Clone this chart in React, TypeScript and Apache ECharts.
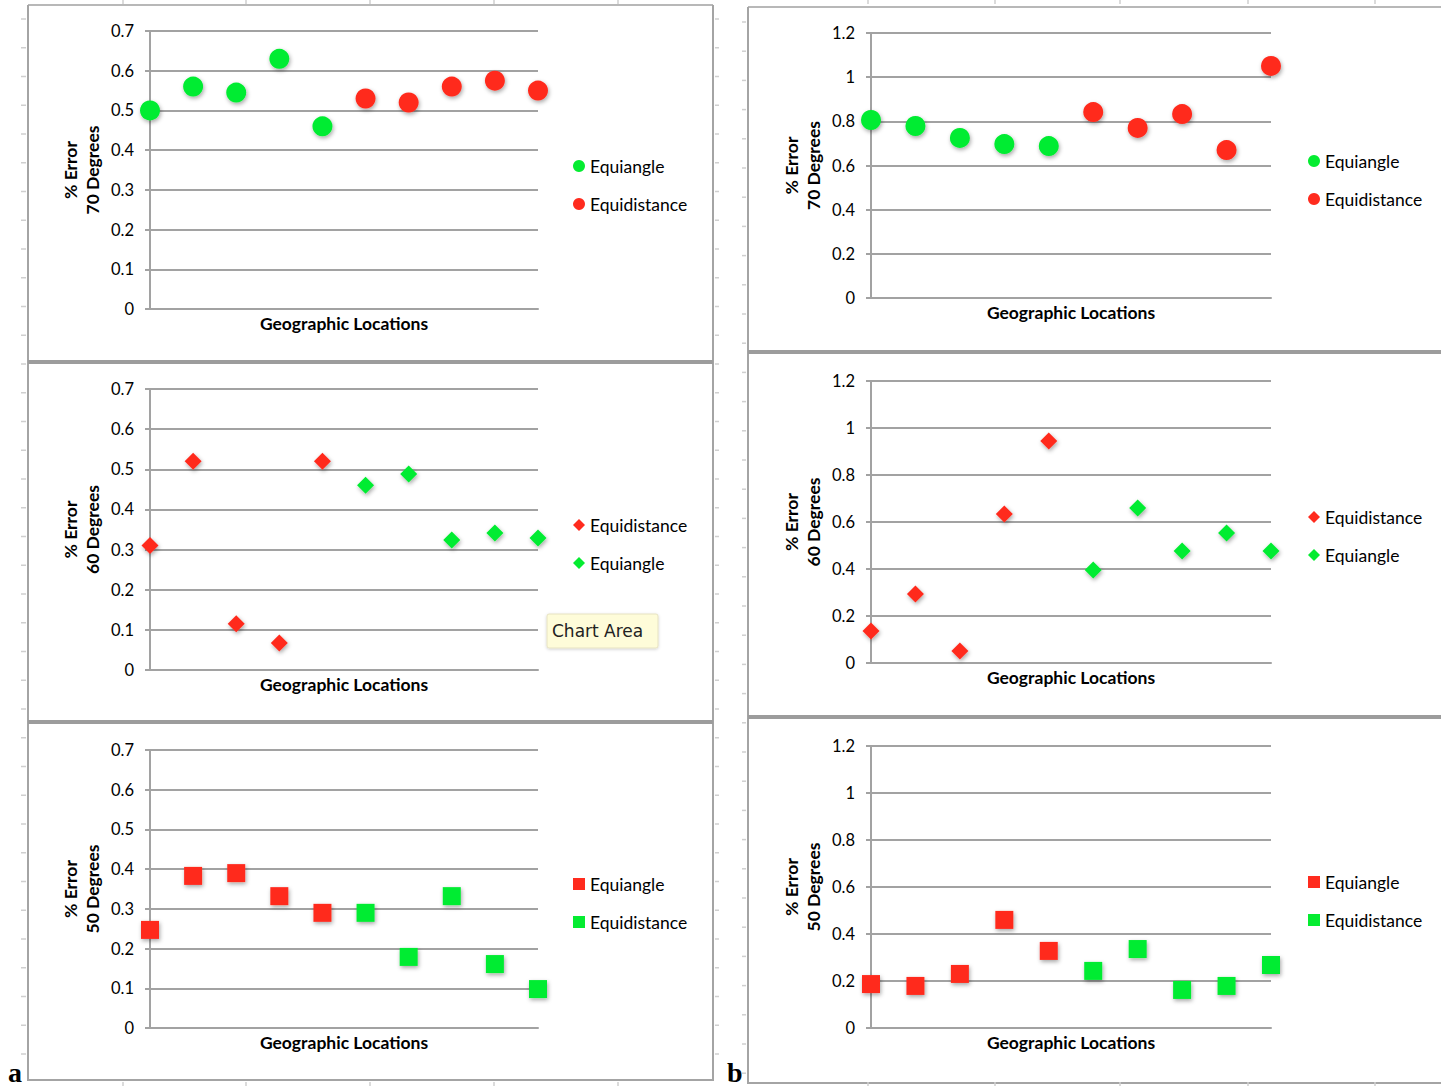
import React, { useEffect, useRef } from "react";
import * as echarts from "echarts";

// ---------- DATA ----------
const locations = ["1", "2", "3", "4", "5", "6", "7", "8", "9", "10"];

// Panel a (y axis 0 - 0.7)
const a70Equiangle = [0.5, 0.56, 0.545, 0.63, 0.46]; // locations 1-5
const a70Equidistance = [0.53, 0.52, 0.56, 0.575, 0.55]; // locations 6-10
const a60Equidistance = [0.31, 0.52, 0.115, 0.067, 0.52]; // locations 1-5
const a60Equiangle = [0.46, 0.488, 0.324, 0.341, 0.329]; // locations 6-10
const a50Equiangle = [0.247, 0.383, 0.39, 0.332, 0.29]; // locations 1-5
const a50Equidistance = [0.29, 0.179, 0.332, 0.161, 0.098]; // locations 6-10

// Panel b (y axis 0 - 1.2)
const b70Equiangle = [0.806, 0.779, 0.725, 0.697, 0.688];
const b70Equidistance = [0.842, 0.77, 0.833, 0.67, 1.051];
const b60Equidistance = [0.136, 0.294, 0.051, 0.634, 0.945];
const b60Equiangle = [0.396, 0.66, 0.477, 0.553, 0.477];
const b50Equiangle = [0.187, 0.179, 0.23, 0.46, 0.328];
const b50Equidistance = [0.243, 0.336, 0.162, 0.179, 0.268];

const aTicks = { max: 0.7, interval: 0.1 };
const bTicks = { max: 1.2, interval: 0.2 };

// ---------- STYLE ----------
const GREEN = "#05ec31";
const RED = "#ff2b1e";
const GRID_GRAY = "#a2a2a2";
const FONT = "Lato";

type SeriesDef = { name: string; color: string; start: number; vals: number[] };
type Panel = {
  id: string;
  grid: { left: number; top: number; width: number; height: number };
  ticks: { max: number; interval: number };
  yName: string;
  symbol: string;
  size: number;
  series: SeriesDef[];
  legend: { left: number; top: number };
};

const panels: Panel[] = [
  {
    id: "a70",
    grid: { left: 150, top: 31, width: 388, height: 278 },
    ticks: aTicks,
    yName: "% Error\n70 Degrees",
    symbol: "circle",
    size: 20,
    series: [
      { name: "Equiangle", color: GREEN, start: 0, vals: a70Equiangle },
      { name: "Equidistance", color: RED, start: 5, vals: a70Equidistance },
    ],
    legend: { left: 573, top: 157 },
  },
  {
    id: "a60",
    grid: { left: 150, top: 389, width: 388, height: 281 },
    ticks: aTicks,
    yName: "% Error\n60 Degrees",
    symbol: "diamond",
    size: 17,
    series: [
      { name: "Equidistance", color: RED, start: 0, vals: a60Equidistance },
      { name: "Equiangle", color: GREEN, start: 5, vals: a60Equiangle },
    ],
    legend: { left: 573, top: 516 },
  },
  {
    id: "a50",
    grid: { left: 150, top: 750, width: 388, height: 278 },
    ticks: aTicks,
    yName: "% Error\n50 Degrees",
    symbol: "rect",
    size: 18,
    series: [
      { name: "Equiangle", color: RED, start: 0, vals: a50Equiangle },
      { name: "Equidistance", color: GREEN, start: 5, vals: a50Equidistance },
    ],
    legend: { left: 573, top: 875 },
  },
  {
    id: "b70",
    grid: { left: 871, top: 33, width: 400, height: 265 },
    ticks: bTicks,
    yName: "% Error\n70 Degrees",
    symbol: "circle",
    size: 20,
    series: [
      { name: "Equiangle", color: GREEN, start: 0, vals: b70Equiangle },
      { name: "Equidistance", color: RED, start: 5, vals: b70Equidistance },
    ],
    legend: { left: 1308, top: 152 },
  },
  {
    id: "b60",
    grid: { left: 871, top: 381, width: 400, height: 282 },
    ticks: bTicks,
    yName: "% Error\n60 Degrees",
    symbol: "diamond",
    size: 17,
    series: [
      { name: "Equidistance", color: RED, start: 0, vals: b60Equidistance },
      { name: "Equiangle", color: GREEN, start: 5, vals: b60Equiangle },
    ],
    legend: { left: 1308, top: 508 },
  },
  {
    id: "b50",
    grid: { left: 871, top: 746, width: 400, height: 282 },
    ticks: bTicks,
    yName: "% Error\n50 Degrees",
    symbol: "rect",
    size: 18,
    series: [
      { name: "Equiangle", color: RED, start: 0, vals: b50Equiangle },
      { name: "Equidistance", color: GREEN, start: 5, vals: b50Equidistance },
    ],
    legend: { left: 1308, top: 873 },
  },
];

function buildGraphics() {
  const g: any[] = [];
  const border = { stroke: "#a4a4a4", lineWidth: 2, fill: "none" };
  const sep = { stroke: "#9c9c9c", lineWidth: 4 };
  // left column frame
  g.push({ type: "line", shape: { x1: 28, y1: 5, x2: 713, y2: 5 }, style: { stroke: "#b8b8b8", lineWidth: 2 } });
  g.push({ type: "line", shape: { x1: 28, y1: 5, x2: 28, y2: 1081 }, style: border });
  g.push({ type: "line", shape: { x1: 713, y1: 5, x2: 713, y2: 1081 }, style: border });
  g.push({ type: "line", shape: { x1: 28, y1: 1080, x2: 713, y2: 1080 }, style: border });
  g.push({ type: "line", shape: { x1: 28, y1: 362, x2: 713, y2: 362 }, style: sep });
  g.push({ type: "line", shape: { x1: 28, y1: 722, x2: 713, y2: 722 }, style: sep });
  // right column frame
  g.push({ type: "line", shape: { x1: 748, y1: 7, x2: 1441, y2: 7 }, style: { stroke: "#b8b8b8", lineWidth: 2 } });
  g.push({ type: "line", shape: { x1: 748, y1: 7, x2: 748, y2: 1084 }, style: border });
  g.push({ type: "line", shape: { x1: 748, y1: 1083, x2: 1441, y2: 1083 }, style: border });
  g.push({ type: "line", shape: { x1: 748, y1: 352, x2: 1441, y2: 352 }, style: sep });
  g.push({ type: "line", shape: { x1: 748, y1: 717, x2: 1441, y2: 717 }, style: sep });
  // faint sheet ticks
  const faint = { stroke: "#cfcfcf", lineWidth: 1.5 };
  for (let y = 19; y < 1080; y += 28.75) {
    g.push({ type: "line", shape: { x1: 21, y1: y, x2: 26, y2: y }, style: faint });
    g.push({ type: "line", shape: { x1: 715, y1: y, x2: 719, y2: y }, style: faint });
  }
  for (let y = 22; y < 1080; y += 29.2) {
    g.push({ type: "line", shape: { x1: 742, y1: y, x2: 746, y2: y }, style: faint });
  }
  [123, 246, 370, 494, 618, 868, 995, 1120, 1248, 1375].forEach((x) => {
    g.push({ type: "line", shape: { x1: x, y1: 0, x2: x, y2: 4 }, style: faint });
    g.push({ type: "line", shape: { x1: x, y1: 1082, x2: x, y2: 1086 }, style: faint });
  });
  // tooltip-like "Chart Area" box
  g.push({
    type: "rect",
    shape: { x: 547, y: 614, width: 111, height: 34, r: 2 },
    style: { fill: "#fefcd9", stroke: "#e6e2c2", lineWidth: 1, shadowBlur: 3, shadowColor: "rgba(0,0,0,0.18)", shadowOffsetY: 1 },
    z: 100,
  });
  g.push({
    type: "text",
    x: 552,
    y: 631,
    style: { text: "Chart Area", fontFamily: "DejaVu Sans", fontSize: 17, fill: "#222", textVerticalAlign: "middle" },
    z: 101,
  });
  // sub-figure letters
  g.push({ type: "text", x: 8, y: 1086, style: { text: "a", fontFamily: "Liberation Serif", fontWeight: "bold", fontSize: 28, fill: "#000", textVerticalAlign: "bottom" }, z: 101 });
  g.push({ type: "text", x: 727, y: 1086, style: { text: "b", fontFamily: "Liberation Serif", fontWeight: "bold", fontSize: 28, fill: "#000", textVerticalAlign: "bottom" }, z: 101 });
  return g;
}

function buildOption() {
  const lineStyle = { color: GRID_GRAY, width: 2 };
  const series: any[] = [];
  panels.forEach((p, i) => {
    p.series.forEach((s) => {
      series.push({
        type: "scatter",
        name: `${s.name}|${p.id}`,
        xAxisIndex: i,
        yAxisIndex: i,
        symbol: p.symbol,
        symbolSize: p.size,
        data: s.vals.map((v, k) => [locations[s.start + k], v]),
        itemStyle: {
          color: s.color,
          opacity: 1,
          shadowBlur: 4,
          shadowColor: "rgba(0,0,0,0.35)",
          shadowOffsetX: 1,
          shadowOffsetY: 2,
        },
        emphasis: { disabled: true },
      });
    });
  });
  return {
    animation: false,
    backgroundColor: "#ffffff",
    grid: panels.map((p) => ({ ...p.grid })),
    xAxis: panels.map((p, i) => ({
      type: "category",
      gridIndex: i,
      data: locations,
      boundaryGap: false,
      axisLabel: { show: false },
      axisTick: { show: false },
      axisLine: { show: true, lineStyle },
      splitLine: { show: false },
      name: "Geographic Locations",
      nameLocation: "middle",
      nameGap: 5,
      nameTextStyle: { fontFamily: FONT, fontWeight: "bold", fontSize: 17.5, color: "#000" },
    })),
    yAxis: panels.map((p, i) => ({
      type: "value",
      gridIndex: i,
      min: 0,
      max: p.ticks.max,
      interval: p.ticks.interval,
      axisLine: { show: true, lineStyle },
      axisTick: { show: true, length: 5, lineStyle },
      splitLine: { show: true, lineStyle },
      axisLabel: { margin: 16, fontSize: 16.5, color: "#000", fontFamily: FONT },
      name: p.yName,
      nameLocation: "middle",
      nameRotate: 90,
      nameGap: 47,
      nameTextStyle: { fontFamily: FONT, fontWeight: "bold", fontSize: 17.5, color: "#000", lineHeight: 22, align: "center" },
    })),
    legend: panels.map((p) => ({
      orient: "vertical",
      left: p.legend.left,
      top: p.legend.top,
      itemWidth: 12,
      itemHeight: 12,
      itemGap: 20,
      padding: 0,
      selectedMode: false,
      data: p.series.map((s) => `${s.name}|${p.id}`),
      formatter: (name: string) => name.split("|")[0],
      textStyle: { fontFamily: FONT, fontSize: 17.5, color: "#000", lineHeight: 18 },
    })),
    series,
    graphic: buildGraphics(),
  };
}

export default function App() {
  const ref = useRef<HTMLDivElement>(null);
  useEffect(() => {
    if (!ref.current) return;
    const chart = echarts.init(ref.current, undefined, { renderer: "svg" });
    chart.setOption(buildOption() as any);
    return () => chart.dispose();
  }, []);
  return (
    <div
      ref={ref}
      style={{ position: "absolute", left: 0, top: 0, width: 1441, height: 1086, background: "#fff" }}
    />
  );
}
